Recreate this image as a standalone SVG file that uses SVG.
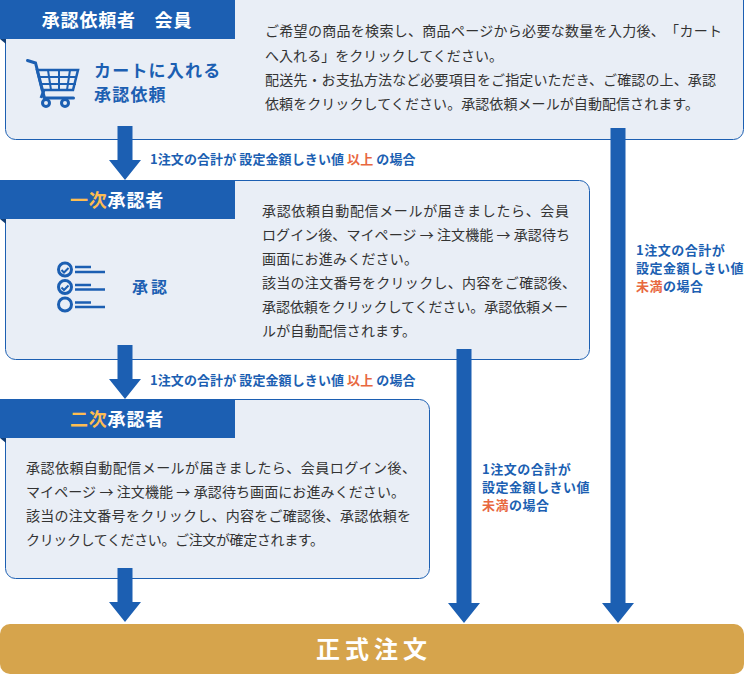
<svg xmlns="http://www.w3.org/2000/svg" width="744" height="674" viewBox="0 0 744 674">
<style>
text{font-family:"Noto Sans CJK JP","Noto Sans",sans-serif}
.box{fill:#e9eef6;stroke:#1c5fb2;stroke-width:1}
.hd{fill:#1c5fb2}
.fold{fill:#123f78}
.ht{font-size:18px;font-weight:700;fill:#fff;text-anchor:middle;letter-spacing:.8px}
.y{fill:#fdbd52}
.body{font-size:14px;font-weight:400;fill:#333;text-spacing-trim:space-all}
.lb{font-size:13px;font-weight:700;fill:#1c5fb2;letter-spacing:.5px}
.r{fill:#e8683f}
.big{font-size:17px;font-weight:700;fill:#1c5fb2;letter-spacing:1.2px}
.ar{fill:#1c5fb2}
.ic{fill:none;stroke:#1c5fb2;stroke-width:3}
</style>
<g id="node-member">
<rect class="box" x="5.5" y="-12" width="738" height="151.500" rx="10"/>
<path class="fold" d="M0 39h6v5z"/>
<rect class="hd" x="0" y="0" width="235" height="39"/>
<text class="ht" x="117" y="27">承認依頼者　会員</text>
<g class="ic">
<path d="M27.500 60.500l8 2.500 9 35h29" stroke-linecap="round"/>
<path d="M37 70h41l-5 20H42z" stroke-width="2.500"/>
<path d="M48 70l3 20M59 70v20M70 70l-3 20M39 77h38M41 84h35" stroke-width="2"/>
<path d="M44 90l-3 8" stroke-width="3"/>
<circle cx="46" cy="103" r="3.500"/><circle cx="65" cy="103" r="3.500"/>
</g>
<text class="big" x="94" y="77">カートに入れる</text>
<text class="big" x="94" y="101">承認依頼</text>
<text class="body" x="265" y="36" textLength="457">ご希望の商品を検索し、商品ページから必要な数量を入力後、「カート</text>
<text class="body" x="265" y="61" textLength="238">へ入れる」をクリックしてください。</text>
<text class="body" x="265" y="85" textLength="451">配送先・お支払方法など必要項目をご指定いただき、ご確認の上、承認</text>
<text class="body" x="265" y="109" textLength="434">依頼をクリックしてください。承認依頼メールが自動配信されます。</text>
</g>
<g id="node-first">
<rect class="box" x="5.5" y="180.500" width="584" height="179" rx="10"/>
<path class="fold" d="M0 219h6v5z"/>
<rect class="hd" x="0" y="180" width="235" height="39"/>
<text class="ht" x="117" y="207"><tspan class="y">一次</tspan>承認者</text>
<g class="ic">
<circle cx="65" cy="269.500" r="6.500"/><circle cx="65" cy="287" r="6.500"/><circle cx="65" cy="304.500" r="6.500"/>
<path d="M61.500 270l2.500 2.500 4.500-4.500M61.500 287.500l2.500 2.500 4.500-4.500" stroke-width="2"/>
<path d="M75 267h16M75 272h30M75 285h16M75 289.500h30M75 302.500h16M75 307h30" stroke-width="2.500"/>
</g>
<text class="big" x="132" y="293" style="font-size:16px;letter-spacing:3px">承認</text>
<text class="body" x="262" y="216" textLength="307">承認依頼自動配信メールが届きましたら、会員</text>
<text class="body" x="262" y="240" textLength="308">ログイン後、マイページ → 注文機能 → 承認待ち</text>
<text class="body" x="262" y="264" textLength="156">画面にお進みください。</text>
<text class="body" x="262" y="288" textLength="314">該当の注文番号をクリックし、内容をご確認後、</text>
<text class="body" x="262" y="312" textLength="306">承認依頼をクリックしてください。承認依頼メー</text>
<text class="body" x="262" y="336" textLength="154">ルが自動配信されます。</text>
</g>
<g id="node-second">
<rect class="box" x="5.5" y="399.500" width="424" height="179" rx="10"/>
<path class="fold" d="M0 438h6v5z"/>
<rect class="hd" x="0" y="399" width="235" height="39"/>
<text class="ht" x="117" y="426"><tspan class="y">二次</tspan>承認者</text>
<text class="body" x="26" y="473" textLength="390">承認依頼自動配信メールが届きましたら、会員ログイン後、</text>
<text class="body" x="26" y="497" textLength="379">マイページ → 注文機能 → 承認待ち画面にお進みください。</text>
<text class="body" x="26" y="521" textLength="385">該当の注文番号をクリックし、内容をご確認後、承認依頼を</text>
<text class="body" x="26" y="545" textLength="298">クリックしてください。ご注文が確定されます。</text>
</g>
<g id="node-order">
<rect x="0" y="624" width="744" height="50" rx="10" fill="#d6a44c"/>
<text x="374" y="658" text-anchor="middle" font-size="24" font-weight="700" fill="#fff" letter-spacing="5">正式注文</text>
</g>
<g id="connectors">
<path class="ar" d="M117.500 126h15v34h8.500l-16 20-16-20h8.500z"/>
<path class="ar" d="M117.500 345h15v34h8.500l-16 20-16-20h8.500z"/>
<path class="ar" d="M117.500 568h15v34h8.500l-16 20-16-20h8.500z"/>
<path class="ar" d="M456.500 349h15v254h8.500l-16 20-16-20h8.500z"/>
<path class="ar" d="M610.500 128h15v475h8.500l-16 20-16-20h8.500z"/>
</g>
<g id="labels">
<text class="lb" x="150" y="164" textLength="266">1注文の合計が 設定金額しきい値 <tspan class="r">以上</tspan> の場合</text>
<text class="lb" x="150" y="385" textLength="266">1注文の合計が 設定金額しきい値 <tspan class="r">以上</tspan> の場合</text>
<text class="lb" x="482" y="474">1注文の合計が</text>
<text class="lb" x="482" y="492">設定金額しきい値</text>
<text class="lb" x="482" y="510"><tspan class="r">未満</tspan>の場合</text>
<text class="lb" x="636" y="255">1注文の合計が</text>
<text class="lb" x="636" y="273">設定金額しきい値</text>
<text class="lb" x="636" y="291"><tspan class="r">未満</tspan>の場合</text>
</g>
</svg>
